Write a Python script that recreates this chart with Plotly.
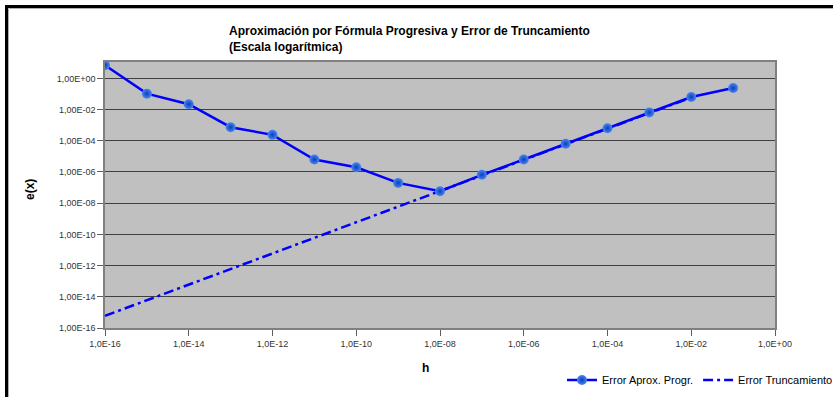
import plotly.graph_objects as go

h_vals = [1e-16, 1e-15, 1e-14, 1e-13, 1e-12, 1e-11, 1e-10, 1e-9,
          1e-8, 1e-7, 1e-6, 1e-5, 1e-4, 1e-3, 1e-2, 1e-1]
err_aprox = [7.0, 1.05e-1, 2.2e-2, 7.4e-4, 2.4e-4, 6.3e-6, 2.0e-6, 2.0e-7,
             5.8e-8, 6.6e-7, 6.3e-6, 6.4e-5, 6.4e-4, 6.6e-3, 6.4e-2, 2.4e-1]
h_trunc = [1e-16, 1e-15, 1e-14, 1e-13, 1e-12, 1e-11, 1e-10, 1e-9,
           1e-8, 1e-7, 1e-6, 1e-5, 1e-4, 1e-3, 1e-2]
err_trunc = [6.0e-16, 6.0e-15, 6.0e-14, 6.0e-13, 6.0e-12, 6.0e-11, 6.0e-10, 6.0e-9,
             6.0e-8, 6.0e-7, 6.0e-6, 6.0e-5, 6.0e-4, 6.0e-3, 6.0e-2]

x_tickvals = [1e-16, 1e-14, 1e-12, 1e-10, 1e-8, 1e-6, 1e-4, 1e-2, 1e0]
x_ticktext = ["1,0E-16", "1,0E-14", "1,0E-12", "1,0E-10", "1,0E-08",
              "1,0E-06", "1,0E-04", "1,0E-02", "1,0E+00"]
y_tickvals = [1e-16, 1e-14, 1e-12, 1e-10, 1e-8, 1e-6, 1e-4, 1e-2, 1e0]
y_ticktext = ["1,00E-16", "1,00E-14", "1,00E-12", "1,00E-10", "1,00E-08",
              "1,00E-06", "1,00E-04", "1,00E-02", "1,00E+00"]

FONT = "Liberation Sans, Arial, sans-serif"
W, H = 833, 397
L, R, T, B = 105, 58, 62, 69
pw, ph = W - L - R, H - T - B


def px(x):
    return (x - L) / pw


def py(y):
    return (H - B - y) / ph


fig = go.Figure()
fig.add_trace(go.Scatter(
    x=h_trunc, y=err_trunc, mode="lines", name="Error Truncamiento",
    line=dict(color="#0000ff", width=2.5, dash="10px,4px,3px,4px"),
))
fig.add_trace(go.Scatter(
    x=h_vals, y=err_aprox, mode="lines+markers", name="Error Aprox. Progr.",
    line=dict(color="#0000ff", width=2.5),
    marker=dict(size=10, color="#4a88f0",
                gradient=dict(type="radial", color="#0c3cc0"),
                line=dict(width=0)),
))

shapes = [
    dict(type="line", xref="paper", yref="paper", x0=px(6.5), x1=px(6.5),
         y0=py(5), y1=py(400), line=dict(color="black", width=3)),
    dict(type="line", xref="paper", yref="paper", x0=px(5), x1=px(840),
         y0=py(6.5), y1=py(6.5), line=dict(color="black", width=3)),
    dict(type="line", xref="paper", yref="paper", x0=px(8.5), x1=px(8.5),
         y0=py(8.5), y1=py(400), line=dict(color="#b0b0b0", width=1)),
    dict(type="line", xref="paper", yref="paper", x0=px(8.5), x1=px(840),
         y0=py(8.5), y1=py(8.5), line=dict(color="#b0b0b0", width=1)),
]

annotations = [
    dict(text="<b>Aproximación por Fórmula Progresiva y Error de Truncamiento<br>(Escala logarítmica)</b>",
         xref="paper", yref="paper", x=px(227), y=py(22), xanchor="left", yanchor="top",
         align="left", showarrow=False, font=dict(family=FONT, size=12, color="black")),
    dict(text="<b>e(x)</b>", xref="paper", yref="paper", x=px(30), y=py(190),
         xanchor="center", yanchor="middle",
         textangle=-90, showarrow=False, font=dict(family=FONT, size=12, color="black")),
    dict(text="<b>h</b>", xref="paper", yref="paper", x=px(425), y=py(368),
         xanchor="center", yanchor="middle",
         showarrow=False, font=dict(family=FONT, size=12, color="black")),
]

fig.update_layout(
    width=W, height=H, autosize=False,
    margin=dict(l=L, r=R, t=T, b=B, pad=0, autoexpand=False),
    paper_bgcolor="white", plot_bgcolor="#c0c0c0",
    showlegend=True,
    legend=dict(orientation="h", x=px(838), xanchor="right", y=py(380), yanchor="middle",
                font=dict(family=FONT, size=11, color="black"),
                bgcolor="rgba(0,0,0,0)", traceorder="reversed"),
    shapes=shapes, annotations=annotations,
    xaxis=dict(type="log", range=[-16, 0], tickvals=x_tickvals, ticktext=x_ticktext,
               showgrid=False, zeroline=False, showline=True, linecolor="#808080",
               linewidth=1.5, mirror=True, ticks="outside", ticklen=6, tickcolor="#606060",
               automargin=False,
               tickfont=dict(family=FONT, size=9, color="#333333")),
    yaxis=dict(type="log", range=[-16, 1.05], tickvals=y_tickvals, ticktext=y_ticktext,
               showgrid=True, gridcolor="#404040", gridwidth=1, zeroline=False,
               showline=True, linecolor="#808080", linewidth=1.5, mirror=True,
               ticks="outside", ticklen=6, tickcolor="#606060", automargin=False,
               tickfont=dict(family=FONT, size=9, color="#333333")),
)

fig.write_html("out.html",
               config={"displayModeBar": False, "responsive": False},
               post_script="document.body.style.margin='0';document.body.style.overflow='hidden';")
